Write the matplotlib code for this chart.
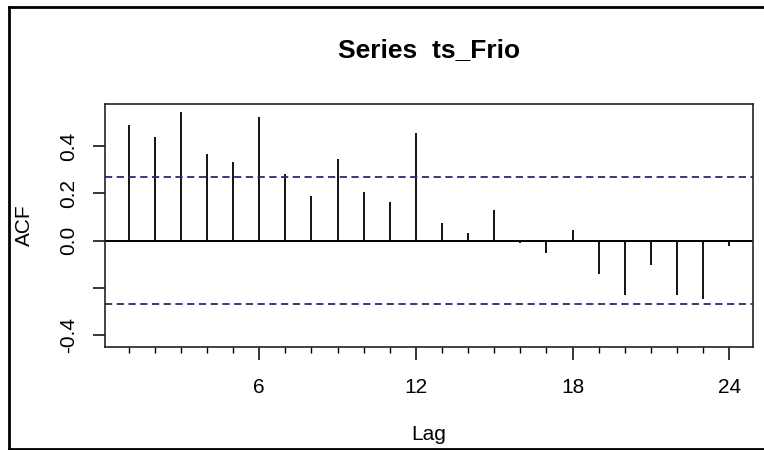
import numpy as np
import matplotlib.pyplot as plt
from matplotlib.lines import Line2D

plt.rcParams['font.family'] = ['Liberation Sans', 'DejaVu Sans']

lags = list(range(1, 25))
acf_vals = [0.489, 0.438, 0.543, 0.367, 0.333, 0.522, 0.283, 0.189, 0.344, 0.205,
            0.162, 0.454, 0.073, 0.034, 0.130, -0.011, -0.053, 0.045, -0.142, -0.231,
            -0.104, -0.231, -0.247, -0.021]
ci = 0.268
major_ticks = [6, 12, 18, 24]
y_ticks = [-0.4, -0.2, 0.0, 0.2, 0.4]
y_labels = ['-0.4', '', '0.0', '0.2', '0.4']

fig = plt.figure(figsize=(7.64, 4.5), dpi=100)
ax = fig.add_axes([0.137, 0.2296, 0.849, 0.5393])

ax.vlines(lags, 0, acf_vals, color='black', lw=1.3)
ax.axhline(0, color='black', lw=1.4)
ax.axhline(ci, color='#2a2a72', lw=1.3, ls=(0, (4, 2.5)))
ax.axhline(-ci, color='#2a2a72', lw=1.3, ls=(0, (4, 2.5)))

ax.set_xlim(0.08, 24.92)
ax.set_ylim(-0.448, 0.578)

ax.set_xticks(major_ticks)
ax.set_xticks(lags, minor=True)
ax.tick_params(axis='x', which='major', length=9.5, width=1.1, labelsize=15, pad=13)
ax.tick_params(axis='x', which='minor', length=4.5, width=1.0)
ax.set_yticks(y_ticks)
ax.set_yticklabels(y_labels, rotation=90, va='center')
ax.tick_params(axis='y', length=9, width=1.1, labelsize=15, pad=10)

for sp in ax.spines.values():
    sp.set_linewidth(1.2)
    sp.set_color('#222222')

ax.set_xlabel('Lag', fontsize=15, labelpad=20)
ax.set_ylabel('ACF', fontsize=15, labelpad=18)
ax.set_title('Series  ts_Frio', fontsize=19, fontweight='bold', pad=34)

# outer frame of the screenshot
fig.add_artist(Line2D([8.5 / 764, 8.5 / 764], [0, 1 - 6.5 / 450], transform=fig.transFigure,
                      color='black', lw=2))
fig.add_artist(Line2D([8.5 / 764, 1], [1 - 6.5 / 450, 1 - 6.5 / 450], transform=fig.transFigure,
                      color='black', lw=2))
fig.add_artist(Line2D([8.5 / 764, 1], [1.5 / 450, 1.5 / 450], transform=fig.transFigure,
                      color='black', lw=2))

fig.savefig('out.png', dpi=100)
